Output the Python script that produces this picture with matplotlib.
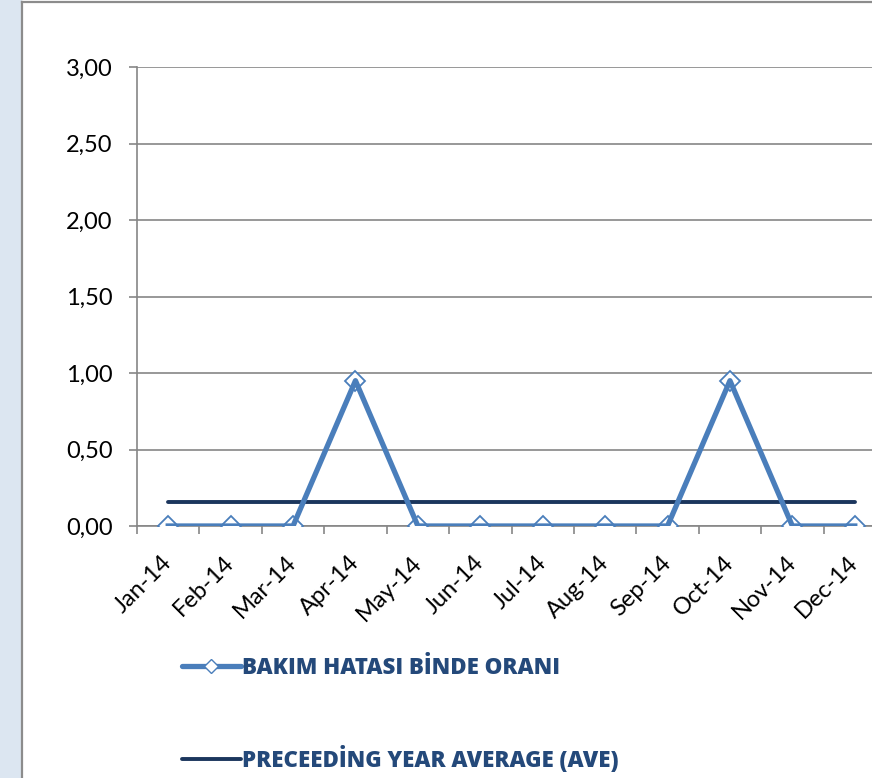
import numpy as np
import matplotlib
matplotlib.use("Agg")
import matplotlib.pyplot as plt
from matplotlib.lines import Line2D
from matplotlib.patches import Rectangle
from matplotlib.ticker import FuncFormatter

plt.rcParams['font.family'] = ['Lato', 'DejaVu Sans']

# data
months = ['Jan-14', 'Feb-14', 'Mar-14', 'Apr-14', 'May-14', 'Jun-14',
          'Jul-14', 'Aug-14', 'Sep-14', 'Oct-14', 'Nov-14', 'Dec-14']
bakim_orani = [0, 0, 0, 0.95, 0, 0, 0, 0, 0, 0.95, 0, 0]
prev_year_avg = [0.16] * 12
y_ticks = [0, 0.5, 1.0, 1.5, 2.0, 2.5, 3.0]

series_color = '#4a7ebb'
avg_color = '#1b365d'
grid_color = '#868686'
text_color = '#24497a'

fig = plt.figure(figsize=(8.72, 7.78), dpi=100)

# left panel band and frame
fig.add_artist(Rectangle((0, 0), 22 / 872, 1, transform=fig.transFigure,
                         facecolor='#dce6f1', edgecolor='none'))
fig.add_artist(Line2D([22 / 872, 22 / 872], [0, 1 - 2 / 778], transform=fig.transFigure,
                      color='#8c8c8c', lw=1.6))
fig.add_artist(Line2D([22 / 872, 1], [1 - 2 / 778, 1 - 2 / 778], transform=fig.transFigure,
                      color='#8c8c8c', lw=1.6))

ax = fig.add_axes([137 / 872, 252 / 778, 749 / 872, 459 / 778])
x = np.arange(len(months))

ax.plot(x, prev_year_avg, color=avg_color, lw=2.8, solid_capstyle='round', zorder=3)
# open diamond markers sit under the thick series line
ax.plot(x, bakim_orani, ls='none', marker='D', markersize=10,
        markerfacecolor='white', markeredgecolor=series_color, markeredgewidth=1.3, zorder=4)
ax.plot(x, bakim_orani, color=series_color, lw=3.8, zorder=5)

ax.set_xlim(-0.5, len(months) - 0.5)
ax.set_ylim(0, 3)
ax.set_yticks(y_ticks)
ax.yaxis.set_major_formatter(FuncFormatter(lambda v, p: f'{v:.2f}'.replace('.', ',')))
ax.grid(axis='y', color=grid_color, lw=1.2)
ax.set_axisbelow(True)

ax.set_xticks(x)
ax.set_xticklabels(months, rotation=45, ha='right', va='center', rotation_mode='anchor')
ax.set_xticks(np.arange(-0.5, len(months)), minor=True)
ax.tick_params(axis='x', which='major', length=0, pad=24, labelsize=17, labelcolor='black')
ax.tick_params(axis='x', which='minor', length=6, width=1.2, color=grid_color, direction='out')
ax.tick_params(axis='y', length=5.5, width=1.2, color=grid_color, pad=12, labelsize=17)

for side in ['top', 'right']:
    ax.spines[side].set_visible(False)
for side in ['left', 'bottom']:
    ax.spines[side].set_color(grid_color)
    ax.spines[side].set_linewidth(1.2)

handles = [
    Line2D([], [], color=series_color, lw=3.8, marker='D', markersize=7,
           markerfacecolor='white', markeredgecolor=series_color, solid_capstyle='round'),
    Line2D([], [], color=avg_color, lw=2.8, solid_capstyle='round'),
]
labels = ['BAKIM HATASI BİNDE ORANI', 'PRECEEDİNG YEAR AVERAGE (AVE)']
fig.legend(handles, labels, loc='upper left',
           bbox_to_anchor=(162 / 872, 1 - 636 / 778), frameon=False,
           prop={'family': 'Open Sans', 'weight': 'heavy', 'size': 16},
           labelcolor=text_color, handlelength=2.65, handletextpad=0.05, labelspacing=2.95)

fig.savefig('out.png', dpi=100)
